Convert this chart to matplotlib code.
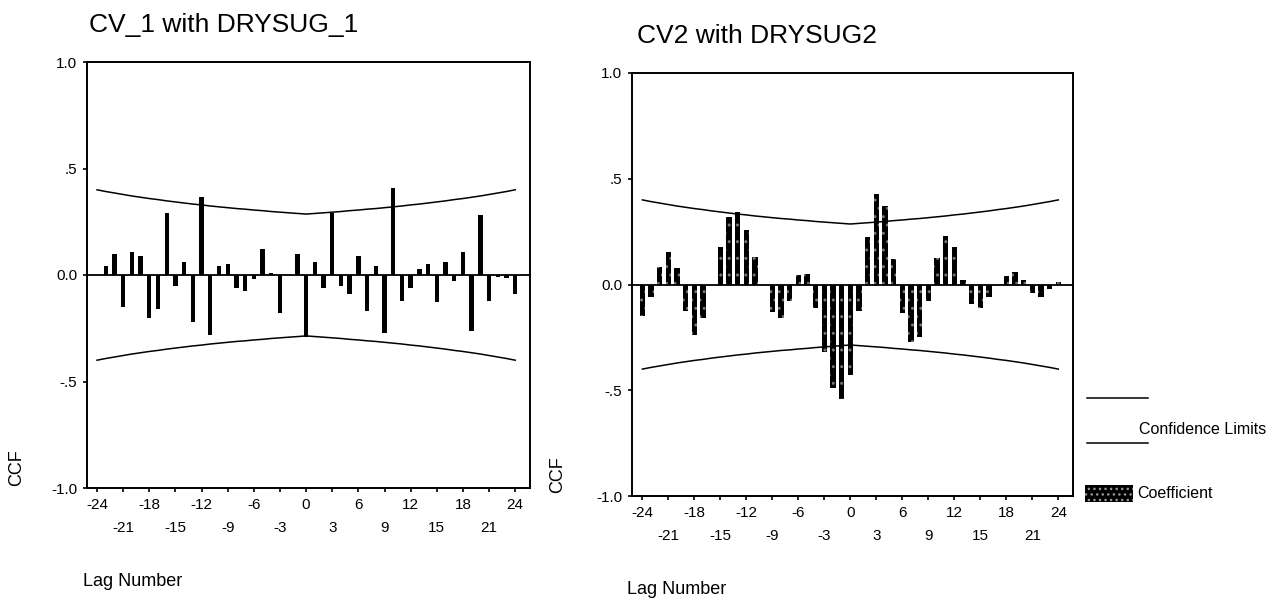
import matplotlib.pyplot as plt
from matplotlib.lines import Line2D
from matplotlib.patches import Rectangle

plt.rcParams['font.family'] = ['Liberation Sans', 'DejaVu Sans']

# lags shared by both panels
lags = list(range(-24, 25))

# CCF values, lag -24 .. 24
ccf_left = [0.00, 0.04, 0.10, -0.15, 0.11, 0.09, -0.20, -0.16, 0.29, -0.05,
            0.06, -0.22, 0.365, -0.28, 0.04, 0.05, -0.06, -0.075, -0.02, 0.12,
            0.01, -0.18, 0.00, 0.10, -0.29, 0.06, -0.06, 0.29, -0.05, -0.09,
            0.09, -0.17, 0.04, -0.27, 0.41, -0.12, -0.06, 0.03, 0.05, -0.125,
            0.06, -0.03, 0.11, -0.265, 0.28, -0.12, -0.01, -0.015, -0.09]
ccf_right = [-0.15, -0.06, 0.085, 0.155, 0.08, -0.125, -0.24, -0.16, 0.00, 0.175,
             0.32, 0.345, 0.26, 0.13, 0.00, -0.13, -0.16, -0.08, 0.045, 0.05,
             -0.11, -0.32, -0.49, -0.54, -0.43, -0.125, 0.225, 0.43, 0.37, 0.12,
             -0.135, -0.27, -0.25, -0.08, 0.125, 0.23, 0.175, 0.02, -0.09, -0.11,
             -0.06, 0.00, 0.04, 0.06, 0.02, -0.04, -0.06, -0.02, 0.01]

# upper confidence limit read at |lag| = 0 .. 24 (lower is the mirror)
conf_half = [0.286, 0.289, 0.292, 0.295, 0.298, 0.302, 0.305, 0.309, 0.312, 0.316,
             0.320, 0.324, 0.329, 0.333, 0.338, 0.343, 0.348, 0.354, 0.359, 0.365,
             0.371, 0.378, 0.385, 0.392, 0.400]
conf = conf_half[:0:-1] + conf_half

ytick_vals = [-1.0, -0.5, 0.0, 0.5, 1.0]
ytick_labels = ['-1.0', '-.5', '0.0', '.5', '1.0']
xtick_vals = list(range(-24, 25, 3))
xtick_labels = [str(v) if (v % 6 == 0) else '\n' + str(v) for v in xtick_vals]

W, H = 1286, 601
fig = plt.figure(figsize=(W / 100, H / 100), dpi=100)


def px(x, y):
    # pixel position in the picture -> figure fraction
    return x / W, 1 - y / H


def draw_panel(rect, values, title, title_xy, xlim, ylabel_xy, lag_xy, hatched):
    ax = fig.add_axes(rect)
    if hatched:
        ax.bar(lags, values, width=0.6, color='black', linewidth=0)
        ax.bar(lags, values, width=0.6, fill=False, edgecolor='0.45',
               hatch='..', linewidth=0)
    else:
        ax.bar(lags, values, width=0.5, color='black', linewidth=0)
    ax.axhline(0, color='black', lw=1.3)
    ax.plot(lags, conf, color='black', lw=1.1)
    ax.plot(lags, [-c for c in conf], color='black', lw=1.1)
    ax.set_xlim(*xlim)
    ax.set_ylim(-1.0, 1.0)
    ax.set_yticks(ytick_vals)
    ax.set_yticklabels(ytick_labels, fontsize=11)
    ax.set_xticks(xtick_vals)
    ax.set_xticklabels(xtick_labels, fontsize=11, linespacing=1.85)
    ax.tick_params(direction='out', length=3, width=1.2, pad=4)
    for sp in ax.spines.values():
        sp.set_linewidth(1.4)
    fig.text(*px(*title_xy), title, fontsize=19, ha='left', va='center')
    fig.text(*px(*ylabel_xy), 'CCF', fontsize=13, rotation=90,
             ha='center', va='center')
    fig.text(*px(*lag_xy), 'Lag Number', fontsize=13, ha='left', va='center')
    return ax


draw_panel([87 / W, 1 - 488 / H, 443 / W, 426 / H], ccf_left, 'CV_1 with DRYSUG_1',
           (89, 25), (-25.15, 25.7), (17, 468), (83, 582), False)
draw_panel([632 / W, 1 - 496 / H, 441 / W, 423 / H], ccf_right, 'CV2 with DRYSUG2',
           (637, 36), (-25.2, 25.7), (558, 475), (627, 590), True)

# hand-made legend on the right
for yy in (398, 443):
    fig.add_artist(Line2D([1087 / W, 1148 / W], [1 - yy / H, 1 - yy / H],
                          color='black', lw=1.1))
fig.text(*px(1139, 430), 'Confidence Limits', fontsize=11.5, ha='left', va='center')
fig.add_artist(Rectangle(px(1085, 502), 48 / W, 17 / H,
                         facecolor='black', edgecolor='0.6', hatch='...', lw=0))
fig.text(*px(1137, 493), 'Coefficient', fontsize=11.5, ha='left', va='center')

fig.savefig('out.png', dpi=100)
